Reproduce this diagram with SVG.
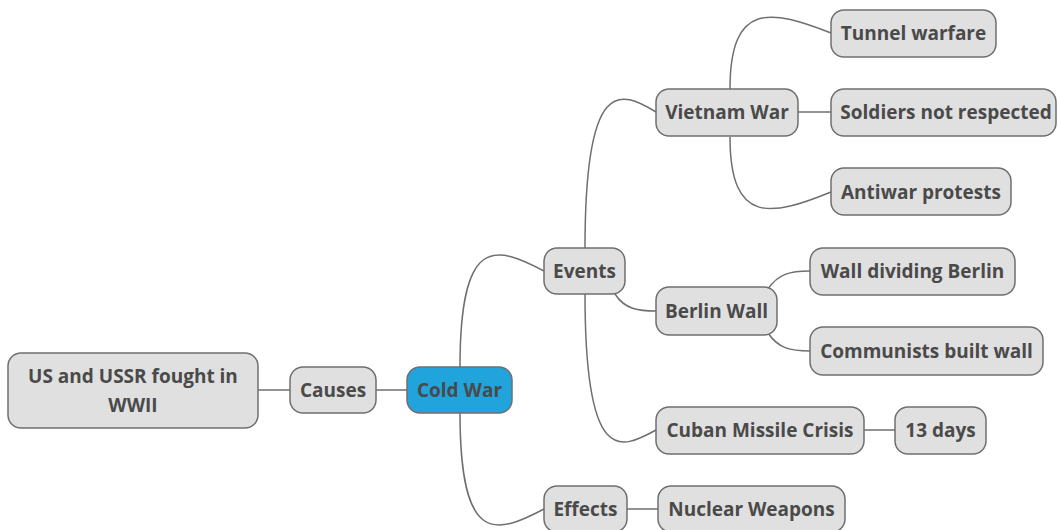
<svg xmlns="http://www.w3.org/2000/svg" width="1058" height="530" viewBox="0 0 1058 530">
<style>
.n rect{fill:#e0e0e0;stroke:#6f6f6f;stroke-width:1.5}
.root rect{fill:#21a4dc;stroke:#6f6f6f;stroke-width:1.5}
text{font-family:"Open Sans","Noto Sans","Liberation Sans",sans-serif;font-weight:bold;font-size:19px;fill:#4a4a4a;text-anchor:middle;dominant-baseline:central}
.c path{fill:none;stroke:#6f6f6f;stroke-width:1.5}
</style>
<rect width="1058" height="530" fill="#ffffff"/>
<g class="c" id="connectors">
<path d="M258 390 H290"/>
<path d="M376 390 H407"/>
<path d="M460 367 C460 235 495 245 544 271"/>
<path d="M460 413 C460 545 495 535 544 509"/>
<path d="M585 248 C585 76 620 90 656 112"/>
<path d="M585 294 C585 466 620 450 656 430"/>
<path d="M615 294 C625 310 640 311 656 311"/>
<path d="M730 89 C730 0 772 10 831 33"/>
<path d="M798 112 H831"/>
<path d="M730 137 C730 226 772 216 831 192"/>
<path d="M768 289 C778 274 790 271 810 271"/>
<path d="M768 333 C778 348 790 351 810 351"/>
<path d="M862 430 H895"/>
<path d="M627 509 H658"/>
</g>
<g class="n" id="n-us"><rect x="8" y="353" width="250" height="75" rx="13"/><text x="133" y="376">US and USSR fought in</text><text x="133" y="405">WWII</text></g>
<g class="n" id="n-causes"><rect x="290" y="367" width="86" height="46" rx="13"/><text x="333" y="390">Causes</text></g>
<g class="root" id="n-coldwar"><rect x="407" y="367" width="105" height="46" rx="13"/><text x="459.5" y="390">Cold War</text></g>
<g class="n" id="n-events"><rect x="544" y="248" width="81" height="46" rx="13"/><text x="584.5" y="271">Events</text></g>
<g class="n" id="n-effects"><rect x="544" y="486" width="83" height="46" rx="13"/><text x="585.5" y="509">Effects</text></g>
<g class="n" id="n-nuclear"><rect x="658" y="486" width="187" height="46" rx="13"/><text x="751.5" y="509">Nuclear Weapons</text></g>
<g class="n" id="n-vietnam"><rect x="656" y="89" width="142" height="47" rx="13"/><text x="727" y="112">Vietnam War</text></g>
<g class="n" id="n-tunnel"><rect x="831" y="10" width="165" height="47" rx="13"/><text x="913.5" y="33">Tunnel warfare</text></g>
<g class="n" id="n-soldiers"><rect x="831" y="89" width="225" height="47" rx="13"/><text x="946" y="112">Soldiers not respected</text></g>
<g class="n" id="n-antiwar"><rect x="831" y="168" width="180" height="47" rx="13"/><text x="921" y="192">Antiwar protests</text></g>
<g class="n" id="n-berlin"><rect x="656" y="287" width="121" height="48" rx="13"/><text x="716.5" y="311">Berlin Wall</text></g>
<g class="n" id="n-dividing"><rect x="810" y="248" width="205" height="47" rx="13"/><text x="912.5" y="271">Wall dividing Berlin</text></g>
<g class="n" id="n-communists"><rect x="810" y="327" width="233" height="48" rx="13"/><text x="926.5" y="351">Communists built wall</text></g>
<g class="n" id="n-cuban"><rect x="656" y="407" width="208" height="47" rx="13"/><text x="760" y="430">Cuban Missile Crisis</text></g>
<g class="n" id="n-13days"><rect x="895" y="407" width="91" height="47" rx="13"/><text x="940.5" y="430">13 days</text></g>
</svg>
